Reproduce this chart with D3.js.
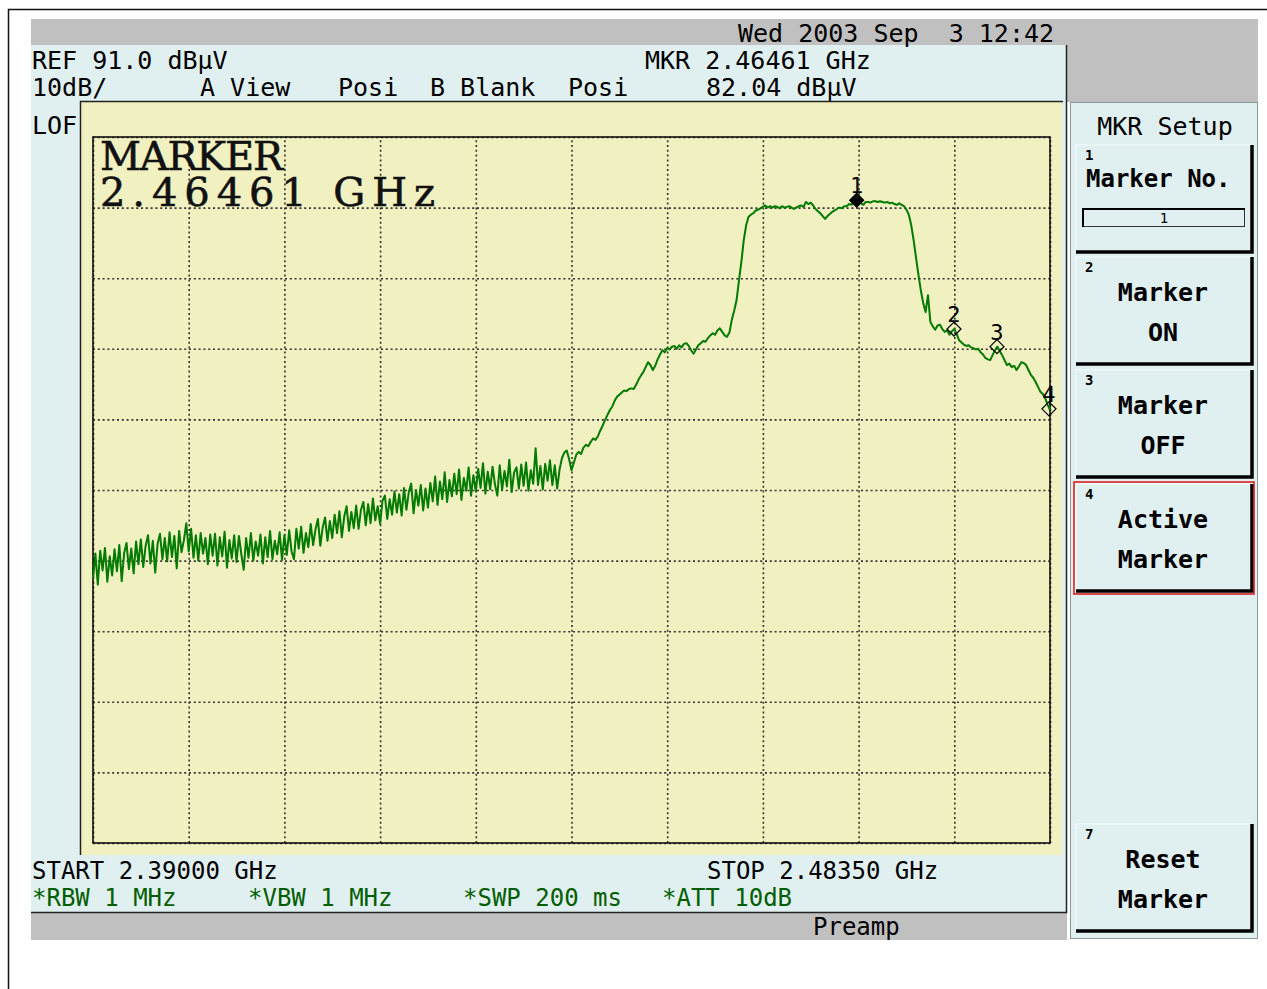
<!DOCTYPE html>
<html>
<head>
<meta charset="utf-8">
<script src="https://cdn.jsdelivr.net/npm/d3@7"></script>
<style>
  body { margin: 0; background: #fff; }
  text { white-space: pre; }
</style>
</head>
<body>
<div id="screen"></div>
<script>
// Sweep settings
const START_GHZ = 2.39;
const STOP_GHZ = 2.4835;
const REF_LEVEL = 91.0;
const DB_PER_DIV = 10;
const GRID_DIVS = 10;

// Trace levels in dBuV, 401 sweep points from START to STOP
const traceLevels = [
  28.4, 32.0, 27.6, 32.4, 29.6, 32.8, 28.0, 31.6, 28.9, 32.6,
  29.5, 33.2, 28.1, 32.0, 33.5, 29.8, 32.7, 29.2, 33.7, 30.5,
  34.0, 30.1, 33.1, 34.6, 30.6, 33.8, 29.3, 33.4, 34.8, 31.2,
  34.2, 30.9, 35.0, 31.5, 34.5, 29.9, 35.2, 32.2, 33.9, 36.3,
  32.3, 35.5, 31.4, 34.6, 31.0, 34.9, 32.0, 34.2, 30.5, 34.7,
  31.7, 34.8, 30.3, 34.3, 31.6, 35.1, 30.0, 33.9, 31.3, 34.6,
  30.8, 34.5, 31.9, 29.7, 34.2, 31.4, 34.9, 31.0, 33.7, 31.7,
  34.7, 30.6, 34.3, 31.5, 35.2, 31.2, 33.8, 31.9, 35.0, 31.1,
  34.6, 31.8, 35.3, 32.3, 31.2, 35.5, 32.7, 35.8, 32.1, 34.9,
  32.9, 36.2, 33.2, 35.4, 36.9, 33.1, 35.7, 37.1, 33.8, 36.6,
  34.2, 37.5, 34.9, 38.0, 34.3, 37.2, 38.7, 35.2, 37.9, 35.6,
  38.8, 35.5, 38.2, 39.3, 36.0, 39.0, 36.3, 39.8, 36.7, 38.7,
  36.2, 39.5, 40.2, 36.9, 39.7, 37.5, 40.8, 37.8, 40.4, 37.4,
  41.3, 38.2, 40.7, 41.9, 37.7, 41.0, 38.8, 41.7, 38.1, 41.2,
  38.5, 42.0, 39.4, 42.9, 38.9, 42.2, 39.7, 43.5, 39.3, 42.4,
  40.1, 43.3, 40.4, 43.9, 39.6, 42.7, 40.9, 44.2, 40.2, 43.1,
  40.8, 44.0, 41.3, 44.8, 40.5, 43.6, 41.1, 44.3, 41.8, 40.2,
  44.5, 41.0, 43.7, 41.5, 45.3, 40.7, 43.5, 44.2, 41.2, 44.6,
  41.6, 44.9, 40.9, 43.8, 41.9, 46.9, 41.7, 44.4, 41.1, 44.7,
  42.3, 45.2, 41.7, 44.5, 41.2, 43.9, 45.5, 46.3, 46.6, 45.4,
  43.8, 44.9, 46.0, 46.4, 46.1, 47.0, 47.4, 47.2, 47.8, 48.3,
  48.1, 48.6, 49.4, 50.1, 50.9, 51.6, 52.3, 52.8, 53.6, 54.2,
  54.5, 54.8, 55.1, 55.0, 55.3, 55.4, 55.3, 55.9, 56.6, 57.2,
  57.7, 58.4, 59.1, 58.7, 58.0, 58.6, 59.5, 60.2, 60.8, 60.5,
  61.1, 60.9, 61.3, 61.4, 61.0, 61.5, 61.2, 61.7, 61.8, 61.4,
  60.8, 60.3, 60.9, 61.5, 61.8, 62.1, 62.0, 62.5, 62.9, 63.2,
  63.0, 63.6, 63.9, 63.4, 62.9, 62.7, 63.3, 65.1, 66.4, 67.9,
  70.7, 73.3, 76.4, 78.5, 79.7, 80.0, 80.2, 80.6, 80.7, 80.9,
  81.1, 81.3, 81.0, 81.2, 81.0, 81.2, 81.1, 80.9, 81.2, 81.0,
  81.1, 81.2, 81.0, 80.8, 81.0, 81.2, 81.3, 81.1, 81.8, 81.5,
  81.7, 81.3, 80.8, 80.5, 80.2, 79.8, 79.4, 79.8, 80.1, 80.4,
  80.6, 80.8, 81.0, 80.9, 81.2, 81.2, 81.5, 81.4, 81.7, 82.04,
  81.9, 81.6, 81.4, 81.8, 81.8, 81.7, 81.9, 81.9, 81.8, 81.9,
  81.8, 81.7, 81.8, 81.6, 81.7, 81.5, 81.4, 81.6, 81.4, 81.2,
  80.7, 80.0, 78.5, 76.4, 73.9, 71.5, 69.3, 67.5, 66.2, 68.6,
  64.8, 64.2, 63.7, 64.3, 64.4, 63.8, 63.4, 63.6, 63.0, 63.5,
  63.8, 63.1, 62.2, 61.9, 61.6, 61.4, 61.5, 61.2, 61.1, 60.9,
  61.0, 60.5, 60.2, 59.7, 59.5, 59.4, 60.1, 60.8, 61.3, 60.7,
  60.1, 59.4, 58.7, 58.9, 58.4, 58.6, 58.0, 58.5, 59.1, 59.0,
  58.7, 58.0, 57.3, 56.9, 56.3, 55.6, 54.9, 54.6, 54.0, 53.1,
  52.3
];

// Markers
const markerNos = [1, 2, 3, 4];
const markerFreqs = [2.46461, 2.47412, 2.47832, 2.48340];
const markerLevels = [82.04, 63.8, 61.3, 52.5];
const activeMarker = 1;

// Screen texts
const dateText = "Wed 2003 Sep  3 12:42";
const refText = "REF 91.0 dB\u00b5V";
const mkrFreqText = "MKR 2.46461 GHz";
const mkrLevelText = "82.04 dB\u00b5V";
const scaleText = "10dB/";
const viewTexts = ["A_View", "Posi", "B_Blank", "Posi"];
const startText = "START 2.39000 GHz";
const stopText = "STOP 2.48350 GHz";
const bwTexts = ["*RBW 1 MHz", "*VBW 1 MHz", "*SWP 200 ms", "*ATT 10dB"];
const bigMarkerTexts = ["MARKER", "2.46461 GHz"];
const keyTitle = "MKR Setup";
const keyNums = ["1", "2", "3", "4", "7"];
const keyLabels = [["Marker No."], ["Marker", "ON"], ["Marker", "OFF"], ["Active", "Marker"], ["Reset", "Marker"]];

const W = 1267, H = 989;
const PLOT = { left: 93, top: 137, right: 1050, bottom: 843 };
const CYAN = "#e0efef", GRAY = "#c0c0c0", YELLOW = "#f0f0c0";
const TRACE_GREEN = "#007a00", TEXT_GREEN = "#005e00";
const MONO = "'DejaVu Sans Mono', monospace";
const SERIF = "'DejaVu Serif', 'Liberation Serif', serif";

let svg = d3.select("#screen").append("svg")
  .attr("width", W)
  .attr("height", H)
  .style("font-family", MONO);

drawFrame();
drawHeader();
drawPlot();
drawSoftkeys();

function drawFrame () {
  svg.append("path")
    .attr("d", "M8.5," + H + " V9.5 H" + W)
    .attr("fill", "none").attr("stroke", "#111").attr("stroke-width", 1.5);

  svg.append("rect").attr("x", 31).attr("y", 19).attr("width", 1227).attr("height", 26).attr("fill", GRAY);
  svg.append("rect").attr("x", 1066).attr("y", 45).attr("width", 192).attr("height", 57).attr("fill", GRAY);
  svg.append("rect").attr("x", 31).attr("y", 45).attr("width", 1036).attr("height", 867).attr("fill", CYAN);
  svg.append("rect").attr("x", 31).attr("y", 912).attr("width", 1036).attr("height", 28).attr("fill", GRAY);
  // panel borders
  svg.append("path")
    .attr("d", "M1066.5,45 V912.5 H31")
    .attr("fill", "none").attr("stroke", "#222").attr("stroke-width", 1.5);
}

function drawHeader () {
  let t = svg.append("g").attr("font-size", 25).attr("fill", "#000");
  t.append("text").attr("x", 738).attr("y", 42).text(dateText);
  t.append("text").attr("x", 32).attr("y", 69).text(refText);
  t.append("text").attr("x", 645).attr("y", 69).text(mkrFreqText);
  t.append("text").attr("x", 32).attr("y", 96).text(scaleText);
  const viewX = [200, 338, 430, 568];
  viewTexts.forEach((s, i) => t.append("text").attr("x", viewX[i]).attr("y", 96).text(s));
  t.append("text").attr("x", 706).attr("y", 96).text(mkrLevelText);
  t.append("text").attr("x", 32).attr("y", 134).text("LOF");

  t.append("text").attr("x", 32).attr("y", 879).attr("font-size", 24).text(startText);
  t.append("text").attr("x", 707).attr("y", 879).attr("font-size", 24).text(stopText);
  const bwX = [32, 248, 463, 662];
  bwTexts.forEach((s, i) => t.append("text").attr("x", bwX[i]).attr("y", 906)
    .attr("font-size", 24).attr("fill", TEXT_GREEN).text(s));
  t.append("text").attr("x", 813).attr("y", 935).attr("font-size", 24).text("Preamp");
}

function drawPlot () {
  // yellow display area
  svg.append("rect").attr("x", 80).attr("y", 102).attr("width", 982).attr("height", 753).attr("fill", YELLOW);
  svg.append("path")
    .attr("d", "M80.5,855 V101.5 H1063")
    .attr("fill", "none").attr("stroke", "#222").attr("stroke-width", 1.5);

  let xScale = d3.scaleLinear().domain([START_GHZ, STOP_GHZ]).range([PLOT.left, PLOT.right]);
  let yScale = d3.scaleLinear()
    .domain([REF_LEVEL - DB_PER_DIV * GRID_DIVS, REF_LEVEL])
    .range([PLOT.bottom, PLOT.top]);

  const gridFreqs = d3.range(GRID_DIVS + 1).map(k => START_GHZ + k * (STOP_GHZ - START_GHZ) / GRID_DIVS);
  const gridLevels = d3.range(GRID_DIVS + 1).map(k => REF_LEVEL - k * DB_PER_DIV);

  // dotted graticule
  let gx = svg.append("g")
    .attr("transform", "translate(0," + PLOT.bottom + ")")
    .call(d3.axisBottom(xScale).tickValues(gridFreqs).tickSize(-(PLOT.bottom - PLOT.top)).tickFormat(""));
  let gy = svg.append("g")
    .attr("transform", "translate(" + PLOT.left + ",0)")
    .call(d3.axisLeft(yScale).tickValues(gridLevels).tickSize(-(PLOT.right - PLOT.left)).tickFormat(""));
  [gx, gy].forEach(g => {
    g.select(".domain").remove();
    g.selectAll(".tick line")
      .attr("stroke", "#333").attr("stroke-width", 1.6).attr("stroke-dasharray", "2,2.8");
  });

  svg.append("rect")
    .attr("x", PLOT.left).attr("y", PLOT.top)
    .attr("width", PLOT.right - PLOT.left).attr("height", PLOT.bottom - PLOT.top)
    .attr("fill", "none").attr("stroke", "#111").attr("stroke-width", 1.6);

  // big marker readout (courier-like, stretched to the screen's character pitch)
  const bigLen = [183, 335];
  bigMarkerTexts.forEach((s, i) => {
    svg.append("text")
      .attr("x", 100).attr("y", 170 + i * 36)
      .attr("textLength", bigLen[i]).attr("lengthAdjust", "spacing")
      .attr("fill", "#111").attr("stroke", "#111").attr("stroke-width", 0.6)
      .style("font-family", SERIF).style("font-size", "40px")
      .text(s);
  });

  // trace
  const step = (STOP_GHZ - START_GHZ) / (traceLevels.length - 1);
  let line = d3.line()
    .x((d, i) => xScale(START_GHZ + i * step))
    .y(d => yScale(d));
  svg.append("path")
    .datum(traceLevels)
    .attr("d", line)
    .attr("fill", "none")
    .attr("stroke", TRACE_GREEN)
    .attr("stroke-width", 2)
    .attr("stroke-linejoin", "round");

  // markers
  let mg = svg.append("g");
  markerNos.forEach((n, i) => {
    let cx = xScale(markerFreqs[i]), cy = yScale(markerLevels[i]);
    let r = 7;
    mg.append("path")
      .attr("d", `M${cx},${cy - r} L${cx + r},${cy} L${cx},${cy + r} L${cx - r},${cy} Z`)
      .attr("fill", n === activeMarker ? "#000" : "none")
      .attr("stroke", "#000").attr("stroke-width", 1.2);
    mg.append("text")
      .attr("x", cx).attr("y", cy - 7)
      .attr("text-anchor", "middle")
      .attr("font-size", 22).attr("fill", "#000")
      .text(n);
  });
}

function drawSoftkeys () {
  svg.append("rect")
    .attr("x", 1070.5).attr("y", 102.5).attr("width", 187).attr("height", 836)
    .attr("fill", CYAN).attr("stroke", "#8a9a9a").attr("stroke-width", 1);

  svg.append("text")
    .attr("x", 1165).attr("y", 135).attr("text-anchor", "middle")
    .attr("font-size", 25).text(keyTitle);

  const tops = [145, 257, 370, 484, 824];
  const kh = 107, kx = 1076, kw = 176;
  keyNums.forEach((num, i) => {
    let y0 = tops[i];
    let g = svg.append("g");
    g.append("rect").attr("x", kx).attr("y", y0).attr("width", kw).attr("height", kh)
      .attr("fill", CYAN).attr("stroke", "#f4ffff").attr("stroke-width", 1);
    g.append("path")
      .attr("d", `M${kx},${y0 + kh} H${kx + kw} V${y0}`)
      .attr("fill", "none").attr("stroke", "#000").attr("stroke-width", 3.5);
    if (num === "4") {
      g.append("rect").attr("x", kx - 2).attr("y", y0 - 2).attr("width", kw + 4).attr("height", kh + 5)
        .attr("fill", "none").attr("stroke", "#e01010").attr("stroke-width", 1.5);
    }
    g.append("text").attr("x", kx + 9).attr("y", y0 + 15)
      .attr("font-size", 14).attr("font-weight", "bold").text(num);

    let labels = keyLabels[i];
    if (labels.length === 1) {
      // Marker No. key with a number field
      g.append("text").attr("x", 1086).attr("y", y0 + 42).attr("font-size", 24).attr("font-weight", "bold").text(labels[0]);
      g.append("rect").attr("x", 1082.5).attr("y", y0 + 63.5).attr("width", 162).attr("height", 18)
        .attr("fill", CYAN).attr("stroke", "#333").attr("stroke-width", 1);
      g.append("path").attr("d", `M1083,${y0 + 82} V${y0 + 64} H1245`)
        .attr("fill", "none").attr("stroke", "#000").attr("stroke-width", 2);
      g.append("text").attr("x", 1164).attr("y", y0 + 78).attr("text-anchor", "middle")
        .attr("font-size", 14).text(markerNos[activeMarker - 1]);
    } else {
      labels.forEach((s, j) => g.append("text")
        .attr("x", 1163).attr("y", y0 + 44 + j * 40)
        .attr("text-anchor", "middle").attr("font-size", 25).attr("font-weight", "bold")
        .text(s));
    }
  });
}
</script>
</body>
</html>
